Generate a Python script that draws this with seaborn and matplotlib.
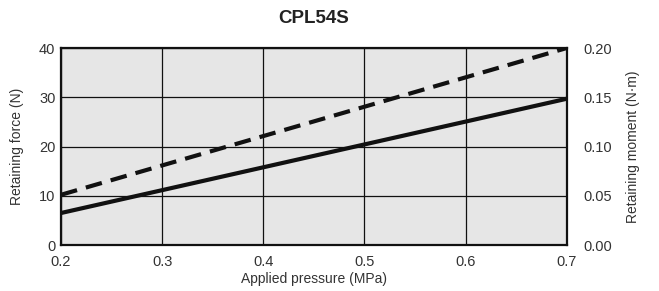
import matplotlib
matplotlib.use("Agg")
import matplotlib.pyplot as plt
import seaborn as sns
import pandas as pd

# values
pressure = [0.2, 0.7]
force_solid = [6.5, 29.7]
force_dashed = [10.2, 40.0]
x_ticks = [0.2, 0.3, 0.4, 0.5, 0.6, 0.7]
y_ticks = [0, 10, 20, 30, 40]
y2_ticks = [0.00, 0.05, 0.10, 0.15, 0.20]

sns.set_theme(style="white")
plt.rcParams['font.family'] = ['Liberation Sans', 'DejaVu Sans']
txt = '#333333'

df = pd.DataFrame({"pressure": pressure * 2,
                   "force": force_solid + force_dashed,
                   "kind": ["force"] * 2 + ["moment"] * 2})

fig = plt.figure(figsize=(6.59, 2.91), dpi=100)
ax = fig.add_axes([0.0926, 0.158, 0.7674, 0.677])
ax.set_facecolor('#e6e6e6')

sns.lineplot(data=df, x="pressure", y="force", style="kind",
             dashes={"force": "", "moment": (4, 2.2)}, color='#111111',
             linewidth=3, legend=False, ax=ax, zorder=3)

ax.set_xlim(0.2, 0.7)
ax.set_ylim(0, 40)
ax.set_xticks(x_ticks)
ax.set_xticklabels([f"{v:.1f}" for v in x_ticks])
ax.set_yticks(y_ticks)
ax.grid(True, color='#111111', linewidth=0.9)
ax.tick_params(axis='y', length=0, labelsize=10.5, colors=txt, pad=4)
ax.tick_params(axis='x', length=0, labelsize=10.5, colors=txt, pad=7)
for s in ax.spines.values():
    s.set_color('#111111')
    s.set_linewidth(1.6)

ax.set_xlabel("Applied pressure (MPa)", fontsize=10, color=txt, labelpad=2)
ax.set_ylabel("Retaining force (N)", fontsize=10, color=txt, labelpad=11)
ax.set_title("CPL54S", fontsize=13.5, fontweight='bold', color='#222222', pad=18)

ax2 = ax.twinx()
ax2.set_ylim(0, 0.20)
ax2.set_yticks(y2_ticks)
ax2.set_yticklabels([f"{v:.2f}" for v in y2_ticks])
ax2.tick_params(length=0, labelsize=10.5, colors=txt, pad=12)
ax2.set_ylabel("Retaining moment (N·m)", fontsize=10, color=txt, labelpad=10)
for s in ax2.spines.values():
    s.set_visible(False)

fig.savefig("out.png", dpi=100)
